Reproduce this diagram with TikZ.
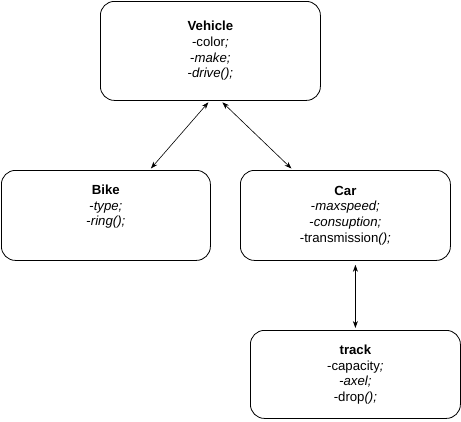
\documentclass[tikz,border=0pt]{standalone}
\usepackage{fontspec}
\setmainfont{Liberation Sans}
\usetikzlibrary{arrows.meta}
\begin{document}
\begin{tikzpicture}[x=1pt,y=-1pt,
  cls/.style={draw=black, line width=0.8pt, rounded corners=14pt, fill=white,
    minimum width=#1, anchor=north west, inner sep=0pt, align=center,
    font=\fontsize{13.2}{15.6}\selectfont},
  link/.style={{Stealth[length=7pt,width=5pt]}-{Stealth[length=7pt,width=5pt]}, line width=0.6pt}]
\useasboundingbox (0,0) rectangle (461,421);
\node[cls=220pt, minimum height=99pt] (veh) at (100,1) {\textbf{Vehicle}\\-color\textit{;}\\-\textit{make;}\\-\textit{drive();}};
\node[cls=209pt, minimum height=90pt] (bike) at (1,170) {\textbf{Bike}\\-\textit{type;}\\-\textit{ring();}\\\strut};
\node[cls=210pt, minimum height=90pt] (car) at (240,170) {\textbf{Car}\\-\textit{maxspeed;}\\-\textit{consuption;}\\-transmission\textit{();}};
\node[cls=210pt, minimum height=88pt] (track) at (250,330) {\textbf{track}\\-capacity\textit{;}\\-\textit{axel;}\\-drop\textit{();}};
\draw[link] ([xshift=-2pt,yshift=-1.5pt]veh.south) -- ([xshift=45pt,yshift=1.5pt]bike.north);
\draw[link] ([xshift=12pt,yshift=-1.5pt]veh.south) -- ([xshift=-54pt,yshift=1.5pt]car.north);
\draw[link] ([xshift=10pt,yshift=-4pt]car.south) -- ([yshift=2pt]track.north);
\end{tikzpicture}
\end{document}
